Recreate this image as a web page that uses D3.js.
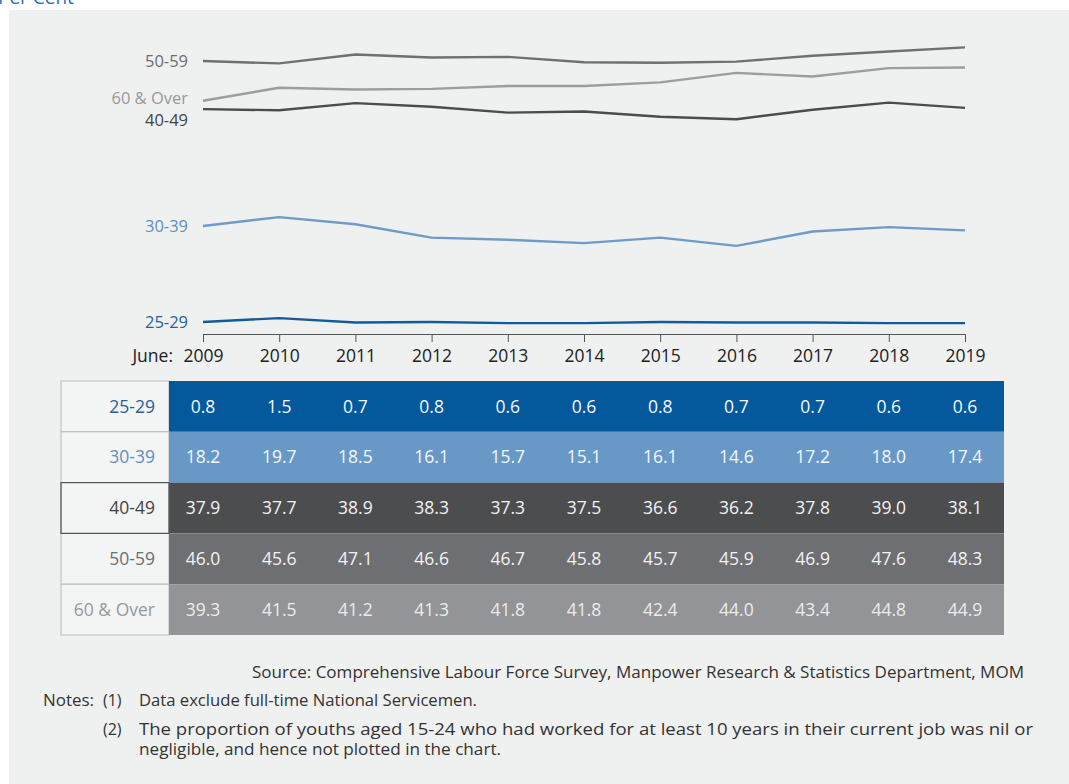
<!DOCTYPE html>
<html>
<head>
<meta charset="utf-8">
<script src="https://cdn.jsdelivr.net/npm/d3@7"></script>
<style>
  html, body { margin: 0; padding: 0; background: #ffffff; }
  svg { display: block; font-family: "Open Sans", "Noto Sans", sans-serif; }
</style>
</head>
<body>
<svg id="chart" width="1069" height="784"></svg>
<script>
// Years of the June survey
const years = [2009, 2010, 2011, 2012, 2013, 2014, 2015, 2016, 2017, 2018, 2019];

// Share (%) of employed residents who had worked at least 10 years in their current job
const age25to29 = [0.8, 1.5, 0.7, 0.8, 0.6, 0.6, 0.8, 0.7, 0.7, 0.6, 0.6];
const age30to39 = [18.2, 19.7, 18.5, 16.1, 15.7, 15.1, 16.1, 14.6, 17.2, 18.0, 17.4];
const age40to49 = [37.9, 37.7, 38.9, 38.3, 37.3, 37.5, 36.6, 36.2, 37.8, 39.0, 38.1];
const age50to59 = [46.0, 45.6, 47.1, 46.6, 46.7, 45.8, 45.7, 45.9, 46.9, 47.6, 48.3];
const age60plus = [39.3, 41.5, 41.2, 41.3, 41.8, 41.8, 42.4, 44.0, 43.4, 44.8, 44.9];

const groupNames = ["25-29", "30-39", "40-49", "50-59", "60 & Over"];

const series = [
  { name: "25-29",     values: age25to29, line: "#135c99", cell: "#03599b", label: "#2a5f94", cellText: "#f4f7fb" },
  { name: "30-39",     values: age30to39, line: "#6e9bc8", cell: "#6899c6", label: "#5e8fc0", cellText: "#f4f7fb" },
  { name: "40-49",     values: age40to49, line: "#4c4c4e", cell: "#4c4d4f", label: "#434345", cellText: "#f2f2f2" },
  { name: "50-59",     values: age50to59, line: "#6f7073", cell: "#6e6f72", label: "#6d6e71", cellText: "#f2f2f2" },
  { name: "60 & Over", values: age60plus, line: "#9c9da0", cell: "#929497", label: "#98999c", cellText: "#ececec" }
];

// Where each line label sits (value space), next to the start of its line
const lineLabelValue = { "25-29": 0.8, "30-39": 18.2, "40-49": 35.95, "50-59": 46.0, "60 & Over": 39.7 };

const svg = d3.select("#chart");

// Light panel behind everything
svg.append("rect").attr("x", 9).attr("y", 10).attr("width", 1060).attr("height", 774).attr("fill", "#eff0f0");

// Unit caption, running off the top edge
svg.append("text").attr("x", -2).attr("y", 4).attr("fill", "#2f6fb0")
  .attr("font-size", 19).text("Per Cent");

const x = d3.scalePoint().domain(years).range([203, 965]);
// The value axis is compressed differently below and above the 30-39 band
const y = d3.scaleLinear().domain([0, 18.2, 50]).range([326.4, 226, 37.3]);

const line = d3.line().x((d, i) => x(years[i])).y(d => y(d));

// Lines
svg.append("g").selectAll("path")
  .data(series)
  .join("path")
  .attr("d", d => line(d.values))
  .attr("fill", "none")
  .attr("stroke", d => d.line)
  .attr("stroke-width", 2.4)
  .attr("stroke-linejoin", "round");

// Line labels on the left
svg.append("g").selectAll("text")
  .data(series)
  .join("text")
  .attr("x", 188)
  .attr("y", d => y(lineLabelValue[d.name]))
  .attr("dy", "0.35em")
  .attr("text-anchor", "end")
  .attr("font-size", 16.5)
  .attr("fill", d => d.label)
  .text(d => d.name);

// Year axis
const axis = svg.append("g").attr("transform", "translate(0,334)")
  .call(d3.axisBottom(x).tickSize(8).tickPadding(8));
axis.select(".domain").attr("stroke", "#555").attr("stroke-width", 1);
axis.selectAll(".tick line").attr("stroke", "#555");
axis.selectAll(".tick text").attr("font-size", 17.5).attr("fill", "#222")
  .attr("font-family", "\"Open Sans\", \"Noto Sans\", sans-serif");
svg.append("text").attr("x", 173).attr("y", 362).attr("text-anchor", "end")
  .attr("font-size", 17.5).attr("fill", "#222").text("June:");

// Data table
const rowBand = d3.scaleBand().domain(groupNames).range([381, 635]);
const headX = 61, headW = 108, cellRight = 1004;

const rows = svg.append("g").selectAll("g")
  .data(series)
  .join("g")
  .attr("transform", d => `translate(0,${rowBand(d.name)})`);

rows.append("rect")
  .attr("x", headX).attr("width", headW).attr("height", rowBand.bandwidth())
  .attr("fill", "#f3f4f4")
  .attr("stroke", "#b9babc").attr("stroke-width", 1);

rows.append("rect")
  .attr("x", headX + headW).attr("width", cellRight - headX - headW).attr("height", rowBand.bandwidth())
  .attr("fill", d => d.cell);

rows.append("text")
  .attr("x", 155).attr("y", rowBand.bandwidth() / 2).attr("dy", "0.35em")
  .attr("text-anchor", "end").attr("font-size", 17.5)
  .attr("fill", d => d.label)
  .text(d => d.name);

rows.each(function (d) {
  d3.select(this).selectAll("text.val")
    .data(d.values)
    .join("text")
    .attr("class", "val")
    .attr("x", (v, i) => x(years[i]))
    .attr("y", rowBand.bandwidth() / 2)
    .attr("dy", "0.35em")
    .attr("text-anchor", "middle")
    .attr("font-size", 17.5)
    .attr("fill", d.cellText)
    .text(v => v.toFixed(1));
});

// Emphasised frame around the 40-49 header cell
svg.append("rect")
  .attr("x", headX).attr("y", rowBand("40-49"))
  .attr("width", headW).attr("height", rowBand.bandwidth())
  .attr("fill", "none").attr("stroke", "#555").attr("stroke-width", 1.2);

// Source and notes
const foot = svg.append("g").attr("font-family", "\"Open Sans\", \"Noto Sans\", sans-serif")
  .attr("font-size", 16).attr("fill", "#333");
foot.append("text").attr("x", 252).attr("y", 678).attr("font-size", 17)
  .attr("textLength", 772).attr("lengthAdjust", "spacingAndGlyphs")
  .text("Source: Comprehensive Labour Force Survey, Manpower Research & Statistics Department, MOM");
foot.append("text").attr("x", 43).attr("y", 706).attr("textLength", 51).attr("lengthAdjust", "spacingAndGlyphs").text("Notes:");
foot.append("text").attr("x", 103).attr("y", 706).text("(1)");
foot.append("text").attr("x", 139).attr("y", 706).attr("textLength", 338).attr("lengthAdjust", "spacingAndGlyphs")
  .text("Data exclude full-time National Servicemen.");
foot.append("text").attr("x", 103).attr("y", 735).text("(2)");
foot.append("text").attr("x", 139).attr("y", 735).attr("textLength", 894).attr("lengthAdjust", "spacingAndGlyphs")
  .text("The proportion of youths aged 15-24 who had worked for at least 10 years in their current job was nil or");
foot.append("text").attr("x", 139).attr("y", 755).attr("textLength", 362).attr("lengthAdjust", "spacingAndGlyphs")
  .text("negligible, and hence not plotted in the chart.");
</script>
</body>
</html>
